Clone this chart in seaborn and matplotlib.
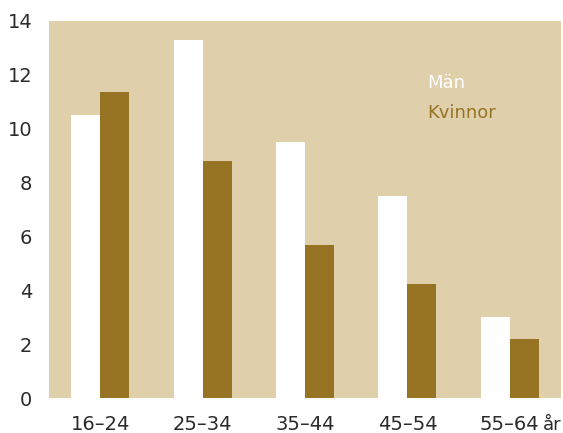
import matplotlib
matplotlib.use("Agg")
import matplotlib.pyplot as plt
import matplotlib.transforms as mtransforms
import seaborn as sns
import pandas as pd

categories = ["16–24", "25–34", "35–44", "45–54", "55–64"]
man = [10.5, 13.3, 9.5, 7.5, 3.0]
kvinnor = [11.35, 8.8, 5.7, 4.25, 2.2]
series = ["Män", "Kvinnor"]
yticks = [0, 2, 4, 6, 8, 10, 12, 14]
unit_label = "år"

df = pd.DataFrame({
    "age": categories * 2,
    "value": man + kvinnor,
    "sex": [series[0]] * len(categories) + [series[1]] * len(categories),
})

sns.set_theme(style="white")
plt.rcParams["font.family"] = ["DejaVu Sans"]

bg = "#dfcfab"
brown = "#977424"
textc = "#2b2b2b"

fig = plt.figure(figsize=(5.63, 4.33), dpi=100)
ax = fig.add_axes([49 / 563, 1 - 398 / 433, 512 / 563, 377 / 433])
ax.set_facecolor(bg)

sns.barplot(data=df, x="age", y="value", hue="sex", order=categories,
            hue_order=series, palette=["#ffffff", brown], width=0.566,
            linewidth=0, saturation=1, ax=ax, legend=False, errorbar=None)

ax.set_xlim(-0.5, 4.5)
ax.set_ylim(0, 14)
ax.set_yticks(yticks)
ax.set_yticklabels([str(t) for t in yticks])
for s in ax.spines.values():
    s.set_visible(False)
ax.tick_params(axis="both", length=0, labelsize=14, colors=textc)
ax.tick_params(axis="y", pad=12)
ax.tick_params(axis="x", pad=12)
ax.set_xlabel("")
ax.set_ylabel("")

ax.text(427 / 563, 1 - 83 / 433, "Män", transform=fig.transFigure,
        color="white", fontsize=13, ha="left", va="center")
ax.text(427 / 563, 1 - 113 / 433, "Kvinnor", transform=fig.transFigure,
        color=brown, fontsize=13, ha="left", va="center")

# place the unit "år" right after the last tick label, on the same baseline
fig.canvas.draw()
renderer = fig.canvas.get_renderer()
last = ax.get_xticklabels()[-1]
bb = last.get_window_extent(renderer)
_, _, lp_d = renderer.get_text_width_height_descent(
    "lp", last.get_fontproperties(), ismath=False)
baseline = bb.y0 + lp_d
fig.text(bb.x1 + 3, baseline, unit_label, transform=mtransforms.IdentityTransform(),
         ha="left", va="baseline", fontsize=13, color=textc)

fig.savefig("out.png", dpi=100)
